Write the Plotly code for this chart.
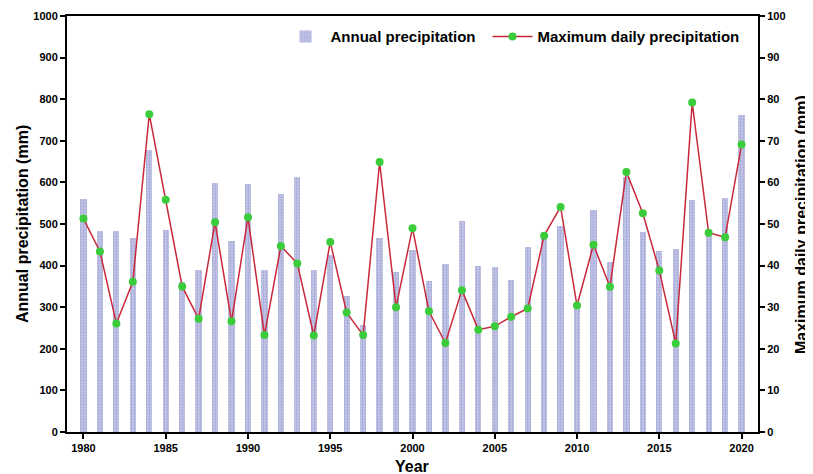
import plotly.graph_objects as go

years = list(range(1980, 2021))
annual_precip = [560, 483, 483, 466, 677, 485, 360, 390, 598, 458,
                 597, 390, 573, 613, 390, 425, 327, 257, 467, 385,
                 437, 364, 404, 507, 399, 397, 365, 445, 470, 496,
                 300, 533, 409, 612, 480, 435, 441, 557, 470, 562, 762]
max_daily = [51.3, 43.4, 26.1, 36.1, 76.4, 55.8, 35.0, 27.2, 50.4, 26.6,
             51.6, 23.3, 44.7, 40.5, 23.2, 45.7, 28.7, 23.3, 64.9, 30.0,
             49.0, 29.0, 21.4, 34.1, 24.6, 25.4, 27.7, 29.7, 47.2, 54.1,
             30.4, 45.0, 34.9, 62.5, 52.6, 38.8, 21.3, 79.2, 47.9, 46.8, 69.1]
x_ticks = [1980, 1985, 1990, 1995, 2000, 2005, 2010, 2015, 2020]

FONT = "Liberation Sans, Arial, sans-serif"
TITLE_FONT = dict(family=FONT, size=16, color="black", weight="bold")

fig = go.Figure()
fig.add_trace(go.Bar(
    x=years, y=annual_precip, name="Annual precipitation",
    width=0.38, legendwidth=152,
    marker=dict(color="#bcbfe3", line=dict(width=0),
                pattern=dict(shape=".", fgcolor="#878cc4", bgcolor="#c6c8e8", size=3, solidity=0.45)),
))
fig.add_trace(go.Scatter(
    x=years, y=max_daily, name="Maximum daily precipitation", yaxis="y2",
    mode="lines+markers",
    line=dict(color="#c8283a", width=1.5),
    marker=dict(color="#3acc3a", size=8),
))

axis_common = dict(
    showline=True, linecolor="black", linewidth=2,
    ticks="outside", ticklen=5, tickwidth=2, tickcolor="black",
    showgrid=False, zeroline=False, automargin=False,
    tickfont=dict(family=FONT, size=11, color="black", weight="bold"),
)

# the page body adds an 8px offset, so the figure is sized to fit inside the window
fig.update_layout(
    width=805, height=466,
    margin=dict(l=59, r=55, t=8, b=42),
    plot_bgcolor="white", paper_bgcolor="white",
    bargap=0,
    xaxis=dict(range=[1979, 2021], tickvals=x_ticks, mirror=True, **axis_common),
    yaxis=dict(range=[0, 1000], dtick=100, **axis_common),
    yaxis2=dict(range=[0, 100], dtick=10, overlaying="y", side="right", **axis_common),
    legend=dict(orientation="h", x=0.309, y=0.99, xanchor="left", yanchor="top",
                font=dict(family=FONT, size=15, color="black", weight="bold"),
                bgcolor="rgba(0,0,0,0)", itemwidth=40),
    showlegend=True,
    annotations=[
        dict(text="Year", xref="paper", yref="paper", x=(412 - 67) / 691, y=-0.082,
             xanchor="center", yanchor="middle", showarrow=False, font=TITLE_FONT),
        dict(text="Annual precipitation (mm)", xref="paper", yref="paper", x=(22 - 67) / 691, y=0.5,
             xanchor="center", yanchor="middle", textangle=-90, showarrow=False, font=TITLE_FONT),
        dict(text="Maximum daily precipitation (mm)", xref="paper", yref="paper", x=(801 - 67) / 691, y=0.5,
             xanchor="center", yanchor="middle", textangle=-90, showarrow=False, font=TITLE_FONT),
    ],
)

fig.write_html("out.html")
